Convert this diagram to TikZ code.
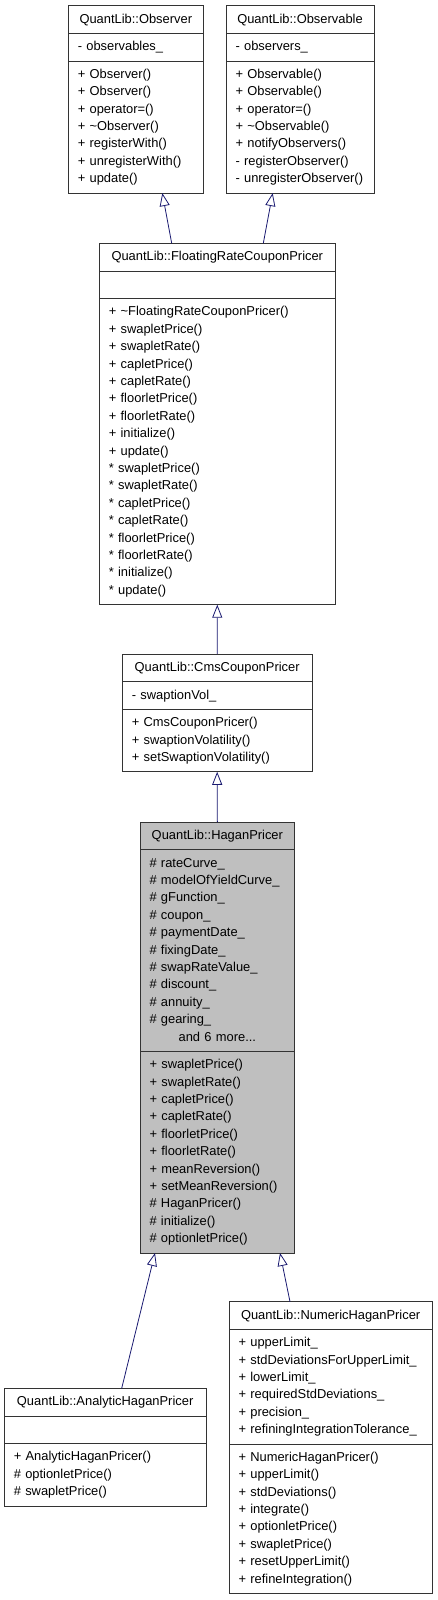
\documentclass[tikz,border=0pt]{standalone}
\usepackage{fontspec}
\setmainfont{Liberation Sans}
\usetikzlibrary{arrows.meta,calc}
\definecolor{edgeblue}{RGB}{25,25,112}
\definecolor{hagangray}{RGB}{191,191,191}

\begin{document}
\begin{tikzpicture}[x=1pt,y=-1pt,
  cls/.style={draw=black!80,line width=0.8pt,font=\fontsize{12.9}{17.4}\selectfont,inner ysep=0pt,outer sep=0pt,
    execute at begin node=\strut,execute at end node=\strut},
  clsname/.style={cls,align=center,inner xsep=0pt,minimum height=27.8pt},
  members/.style={cls,align=left,inner xsep=9.5pt,minimum height=#1*17.4pt+10.2pt},
  inh/.style={-{Triangle[open,length=13pt,width=10pt]},edgeblue,line width=0.8pt}]
\useasboundingbox (0,0) rectangle (437,1600);
\node[clsname,anchor=north west,minimum width=135pt] (obsT) at (68.3,5.7) {QuantLib::Observer};
\node[members=1,anchor=north,text width=116pt] (obsA) at (obsT.south) {- observables\_};
\node[members=7,anchor=north,text width=116pt] (obsM) at (obsA.south)
 {+ Observer()\\ + Observer()\\ + operator=()\\ + \textasciitilde Observer()\\ + registerWith()\\ + unregisterWith()\\ + update()};
\node[clsname,anchor=north west,minimum width=148pt] (oblT) at (226,5.7) {QuantLib::Observable};
\node[members=1,anchor=north,text width=129pt] (oblA) at (oblT.south) {- observers\_};
\node[members=7,anchor=north,text width=129pt] (oblM) at (oblA.south)
 {+ Observable()\\ + Observable()\\ + operator=()\\ + \textasciitilde Observable()\\ + notifyObservers()\\ - registerObserver()\\ - unregisterObserver()};
\node[clsname,anchor=north west,minimum width=236pt] (frcT) at (99.3,243.3) {QuantLib::FloatingRateCouponPricer};
\node[members=1,anchor=north,text width=217pt] (frcA) at (frcT.south) {};
\node[members=17,anchor=north,text width=217pt] (frcM) at (frcA.south)
 {+ \textasciitilde FloatingRateCouponPricer()\\ + swapletPrice()\\ + swapletRate()\\ + capletPrice()\\ + capletRate()\\
  + floorletPrice()\\ + floorletRate()\\ + initialize()\\ + update()\\ {*} swapletPrice()\\ {*} swapletRate()\\
  {*} capletPrice()\\ {*} capletRate()\\ {*} floorletPrice()\\ {*} floorletRate()\\ {*} initialize()\\ {*} update()};
\node[clsname,anchor=north west,minimum width=189.7pt] (cmsT) at (122.3,654) {QuantLib::CmsCouponPricer};
\node[members=1,anchor=north,text width=170.7pt] (cmsA) at (cmsT.south) {- swaptionVol\_};
\node[members=3,anchor=north,text width=170.7pt] (cmsM) at (cmsA.south)
 {+ CmsCouponPricer()\\ + swaptionVolatility()\\ + setSwaptionVolatility()};
\node[clsname,fill=hagangray,anchor=north west,minimum width=154.7pt] (hagT) at (140,822) {QuantLib::HaganPricer};
\node[members=11,fill=hagangray,anchor=north,text width=135.7pt] (hagA) at (hagT.south)
 {\# rateCurve\_\\ \# modelOfYieldCurve\_\\ \# gFunction\_\\ \# coupon\_\\ \# paymentDate\_\\ \# fixingDate\_\\
  \# swapRateValue\_\\ \# discount\_\\ \# annuity\_\\ \# gearing\_\\ \hspace*{\fill}and 6 more...\hspace*{\fill}};
\node[members=11,fill=hagangray,anchor=north,text width=135.7pt] (hagM) at (hagA.south)
 {+ swapletPrice()\\ + swapletRate()\\ + capletPrice()\\ + capletRate()\\ + floorletPrice()\\ + floorletRate()\\
  + meanReversion()\\ + setMeanReversion()\\ \# HaganPricer()\\ \# initialize()\\ \# optionletPrice()};
\node[clsname,anchor=north west,minimum width=201.7pt] (anaT) at (4.3,1388.3) {QuantLib::AnalyticHaganPricer};
\node[members=1,anchor=north,text width=182.7pt] (anaA) at (anaT.south) {};
\node[members=3,anchor=north,text width=182.7pt] (anaM) at (anaA.south)
 {+ AnalyticHaganPricer()\\ \# optionletPrice()\\ \# swapletPrice()};
\node[clsname,anchor=north west,minimum width=203.3pt] (numT) at (229,1301.7) {QuantLib::NumericHaganPricer};
\node[members=6,anchor=north,text width=184.3pt] (numA) at (numT.south)
 {+ upperLimit\_\\ + stdDeviationsForUpperLimit\_\\ + lowerLimit\_\\ + requiredStdDeviations\_\\ + precision\_\\ + refiningIntegrationTolerance\_};
\node[members=8,anchor=north,text width=184.3pt] (numM) at (numA.south)
 {+ NumericHaganPricer()\\ + upperLimit()\\ + stdDeviations()\\ + integrate()\\ + optionletPrice()\\ + swapletPrice()\\ + resetUpperLimit()\\ + refineIntegration()};
\draw[inh] ($(frcT.north west)+(72.4,0)$) -- ($(obsM.south west)+(94,0)$); \draw[inh] ($(frcT.north west)+(164,0)$) -- ($(oblM.south west)+(46.7,0)$);
\draw[inh] (cmsT.north) -- (frcM.south); \draw[inh] (hagT.north) -- (cmsM.south);
\draw[inh] ($(anaT.north west)+(117.4,0)$) -- ($(hagM.south west)+(15,0)$); \draw[inh] ($(numT.north west)+(61,0)$) -- ($(hagM.south west)+(140,0)$);
\end{tikzpicture}
\end{document}
